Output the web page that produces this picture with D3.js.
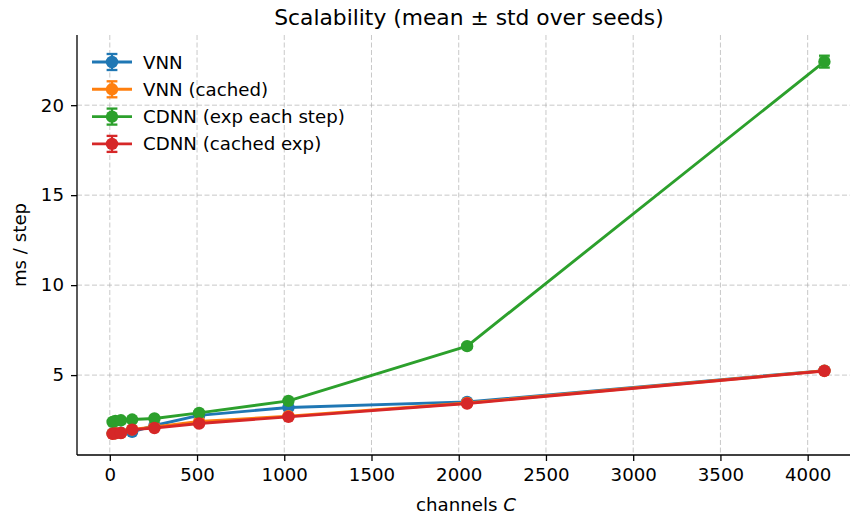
<!DOCTYPE html>
<html>
<head>
<meta charset="utf-8">
<script src="https://cdn.jsdelivr.net/npm/d3@7"></script>
<style>
  body { margin: 0; background: #fff; }
  svg { font-family: "DejaVu Sans", sans-serif; }
</style>
</head>
<body>
<svg id="chart" width="850" height="515"></svg>
<script>
// channel counts on the x axis
const channels = [16, 32, 64, 128, 256, 512, 1024, 2048, 4096];

// mean ms / step per method
const vnnMean        = [1.76, 1.78, 1.80, 1.85, 2.20, 2.76, 3.20, 3.51, 5.25];
const vnnCachedMean  = [1.75, 1.77, 1.79, 1.98, 2.12, 2.42, 2.72, 3.45, 5.24];
const cdnnExpMean    = [2.40, 2.45, 2.49, 2.53, 2.59, 2.90, 3.57, 6.61, 22.42];
const cdnnCachedMean = [1.74, 1.76, 1.78, 1.97, 2.06, 2.31, 2.68, 3.42, 5.23];

// std over seeds
const vnnStd        = [0.03, 0.04, 0.03, 0.05, 0.04, 0.05, 0.06, 0.05, 0.07];
const vnnCachedStd  = [0.03, 0.03, 0.03, 0.04, 0.04, 0.05, 0.05, 0.05, 0.06];
const cdnnExpStd    = [0.04, 0.04, 0.04, 0.04, 0.05, 0.06, 0.08, 0.10, 0.33];
const cdnnCachedStd = [0.03, 0.03, 0.03, 0.04, 0.04, 0.05, 0.05, 0.05, 0.06];

const seriesNames  = ["VNN", "VNN (cached)", "CDNN (exp each step)", "CDNN (cached exp)"];
const seriesColors = ["#1f77b4", "#ff7f0e", "#2ca02c", "#d62728"];

const xTicks = [0, 500, 1000, 1500, 2000, 2500, 3000, 3500, 4000];
const yTicks = [5, 10, 15, 20];

const series = [
  { name: seriesNames[0], color: seriesColors[0], mean: vnnMean, std: vnnStd },
  { name: seriesNames[1], color: seriesColors[1], mean: vnnCachedMean, std: vnnCachedStd },
  { name: seriesNames[2], color: seriesColors[2], mean: cdnnExpMean, std: cdnnExpStd },
  { name: seriesNames[3], color: seriesColors[3], mean: cdnnCachedMean, std: cdnnCachedStd }
];

const svg = d3.select("#chart");
const plotLeft = 77, plotRight = 860, plotTop = 35, plotBottom = 455;
const lw = 2.9, r = 6.2, cap = 5.4;
const fs = 18.2;

const x = d3.scaleLinear().domain([-188, 4300]).range([plotLeft, plotRight]);
const y = d3.scaleLinear().domain([0.56, 23.9]).range([plotBottom, plotTop]);

// grid
const grid = svg.append("g")
  .attr("stroke", "#b0b0b0").attr("stroke-opacity", 0.7)
  .attr("stroke-width", 1).attr("stroke-dasharray", "5,2.5");
grid.selectAll(".gx").data(xTicks).join("line")
  .attr("x1", d => x(d)).attr("x2", d => x(d))
  .attr("y1", plotTop).attr("y2", plotBottom);
grid.selectAll(".gy").data(yTicks).join("line")
  .attr("x1", plotLeft).attr("x2", plotRight)
  .attr("y1", d => y(d)).attr("y2", d => y(d));

// axes
const xAxis = svg.append("g")
  .attr("transform", `translate(0,${plotBottom})`)
  .call(d3.axisBottom(x).tickValues(xTicks).tickFormat(d3.format("d"))
    .tickSize(6).tickPadding(7).tickSizeOuter(0));
const yAxis = svg.append("g")
  .attr("transform", `translate(${plotLeft},0)`)
  .call(d3.axisLeft(y).tickValues(yTicks).tickFormat(d3.format("d"))
    .tickSize(6).tickPadding(7).tickSizeOuter(0));
[xAxis, yAxis].forEach(a => {
  a.select(".domain").attr("stroke", "#000").attr("stroke-width", 1.3);
  a.selectAll(".tick line").attr("stroke", "#000").attr("stroke-width", 1.3);
  a.selectAll(".tick text")
    .attr("font-family", "DejaVu Sans").attr("font-size", fs).attr("fill", "#000");
});
xAxis.select(".domain").attr("d", `M${plotLeft},0H${plotRight}`);
yAxis.select(".domain").attr("d", `M0,${plotTop}V${plotBottom}`);

// series
const plot = svg.append("g");
series.forEach(s => {
  const pts = channels.map((c, i) => ({ c: c, m: s.mean[i], sd: s.std[i] }));
  const g = plot.append("g");
  g.append("path")
    .datum(pts)
    .attr("fill", "none").attr("stroke", s.color).attr("stroke-width", lw)
    .attr("stroke-linejoin", "round")
    .attr("d", d3.line().x(d => x(d.c)).y(d => y(d.m)));
  const eb = g.selectAll(".eb").data(pts).join("g").attr("stroke", s.color).attr("stroke-width", lw * 0.8);
  eb.append("line")
    .attr("x1", d => x(d.c)).attr("x2", d => x(d.c))
    .attr("y1", d => y(d.m - d.sd)).attr("y2", d => y(d.m + d.sd));
  eb.append("line")
    .attr("x1", d => x(d.c) - cap).attr("x2", d => x(d.c) + cap)
    .attr("y1", d => y(d.m - d.sd)).attr("y2", d => y(d.m - d.sd));
  eb.append("line")
    .attr("x1", d => x(d.c) - cap).attr("x2", d => x(d.c) + cap)
    .attr("y1", d => y(d.m + d.sd)).attr("y2", d => y(d.m + d.sd));
  g.selectAll("circle").data(pts).join("circle")
    .attr("cx", d => x(d.c)).attr("cy", d => y(d.m)).attr("r", r)
    .attr("fill", s.color);
});

// legend
const legend = svg.append("g").attr("transform", "translate(92,62)");
const rows = legend.selectAll("g").data(series).join("g")
  .attr("transform", (d, i) => `translate(0,${i * 27.3})`);
rows.append("line").attr("x1", 0).attr("x2", 40).attr("y1", 0).attr("y2", 0)
  .attr("stroke", d => d.color).attr("stroke-width", lw);
rows.append("line").attr("x1", 20).attr("x2", 20).attr("y1", -8).attr("y2", 8)
  .attr("stroke", d => d.color).attr("stroke-width", lw * 0.8);
rows.append("line").attr("x1", 20 - cap).attr("x2", 20 + cap).attr("y1", -8).attr("y2", -8)
  .attr("stroke", d => d.color).attr("stroke-width", lw * 0.8);
rows.append("line").attr("x1", 20 - cap).attr("x2", 20 + cap).attr("y1", 8).attr("y2", 8)
  .attr("stroke", d => d.color).attr("stroke-width", lw * 0.8);
rows.append("circle").attr("cx", 20).attr("cy", 0).attr("r", r).attr("fill", d => d.color);
rows.append("text").attr("x", 51).attr("y", 6.5)
  .attr("font-size", fs).attr("fill", "#000").text(d => d.name);

// title and labels
svg.append("text").attr("x", 469).attr("y", 25).attr("text-anchor", "middle")
  .attr("font-size", 21.8).attr("fill", "#000").text("Scalability (mean ± std over seeds)");
const xl = svg.append("text").attr("x", 466).attr("y", 511).attr("text-anchor", "middle")
  .attr("font-size", fs).attr("fill", "#000");
xl.append("tspan").text("channels ");
xl.append("tspan").attr("font-style", "italic").text("C");
svg.append("text").attr("transform", "translate(26,245) rotate(-90)")
  .attr("text-anchor", "middle").attr("font-size", fs).attr("fill", "#000").text("ms / step");
</script>
</body>
</html>
